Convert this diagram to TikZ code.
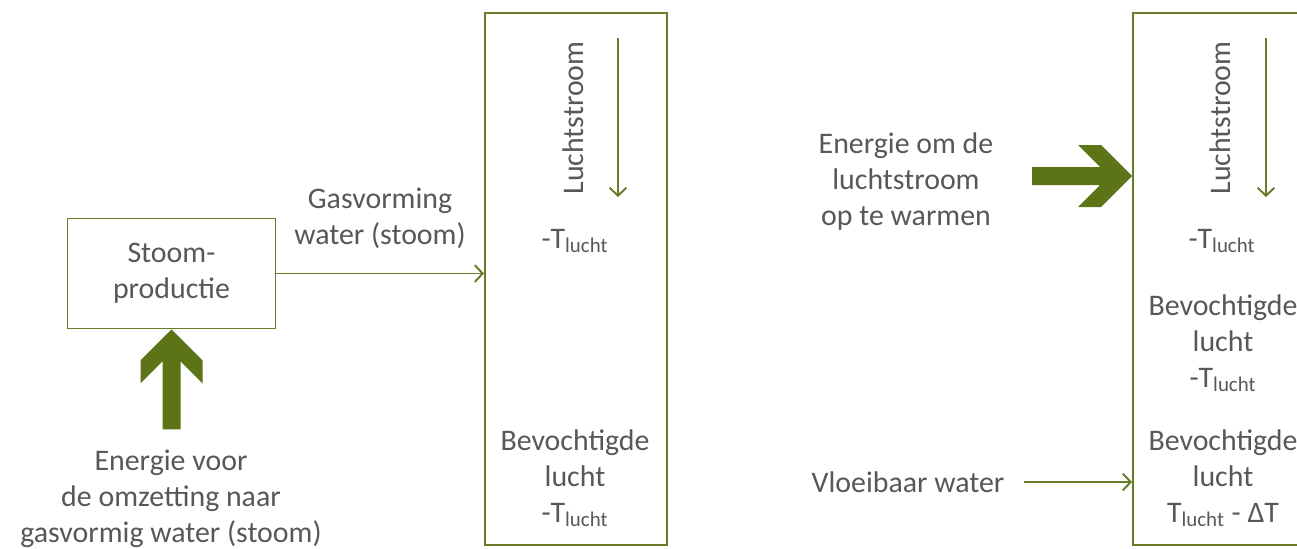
\documentclass[tikz,border=0pt]{standalone}
\usepackage{fontspec}
\setmainfont{Carlito}
\usepackage{tikz}
\usetikzlibrary{%
  arrows.meta,%
  calc,%
  positioning%
}
\definecolor{lijngroen}{RGB}{104,124,40}
\definecolor{pijlgroen}{RGB}{92,116,22}
\definecolor{tekstgrijs}{RGB}{88,88,88}
\tikzset{>={Straight Barb[length=4.5pt,width=9.5pt]}}
\tikzset{
  tekst/.style={text=tekstgrijs,align=center,font=\fontsize{17}{20.5}\selectfont},
  blok/.style={draw=lijngroen,line width=1.1pt,minimum width=4.16cm,minimum height=2.2cm,tekst},
  koker/.style={draw=lijngroen,line width=1.1pt,minimum width=3.64cm,minimum height=10.64cm,inner sep=0pt},
  lijn/.style={draw=lijngroen,line width=1.1pt,->},
  dikpijl/.pic={\fill[pijlgroen] (0,0) -- (-31,-31) -- (-54,-31) -- (-32,-9) -- (-100,-9)
    -- (-100,9) -- (-32,9) -- (-54,31) -- (-31,31) -- cycle;}
}

\begin{document}
\begin{tikzpicture}[x=0.02cm,y=-0.02cm]
    \useasboundingbox[fill=white] (0,0) rectangle (1297,548);
    \clip (0,0) rectangle (1297,548);
    % links: stoombevochtiging
    \node[blok] (stoom) at (171.5,273.5) {Stoom-\\productie};
    \node[koker] (koker1) at (576,279) {};
    \node[tekst] (gas) at (380,218) {Gasvorming\\water (stoom)};
    \draw[lijn] (stoom) -- (stoom -| koker1.west);
    \pic[rotate=90] at (stoom.south) {dikpijl};
    \node[tekst] (energie1) at (171,499) {Energie voor\\de omzetting naar\\gasvormig water (stoom)};
    \node[tekst,rotate=90] (lucht1) at (573,118) {Luchtstroom};
    \coordinate (s1) at (618,38);
    \coordinate (e1) at (618,197);
    \draw[lijn] (s1) -- (e1);
    \node[tekst] (t1) at (575,241) {-T\textsubscript{lucht}};
    \node[tekst] (uit1) at (575,478) {Bevochtigde\\lucht\\-T\textsubscript{lucht}};
    % rechts: adiabatische bevochtiging
    \node[koker] (koker2) at (1224,279) {};
    \node[tekst] (energie2) at (906,182) {Energie om de\\luchtstroom\\op te warmen};
    \coordinate (inlaat) at (koker2.west |- 0,176);
    \pic at (inlaat) {dikpijl};
    \node[tekst] (vloei) at (908,482) {Vloeibaar water};
    \draw[lijn] ([xshift=0.26cm]vloei.east) -- (vloei -| koker2.west);
    \node[tekst,rotate=90] (lucht2) at (1220,118) {Luchtstroom};
    \coordinate (s2) at (1266,38);
    \coordinate (e2) at (1266,197);
    \draw[lijn] (s2) -- (e2);
    \node[tekst] (t2) at (1222,241) {-T\textsubscript{lucht}};
    \node[tekst] (mid2) at (1223,343) {Bevochtigde\\lucht\\-T\textsubscript{lucht}};
    \node[tekst] (uit2) at (1223,478) {Bevochtigde\\lucht\\T\textsubscript{lucht} - ΔT};
\end{tikzpicture}
\end{document}
